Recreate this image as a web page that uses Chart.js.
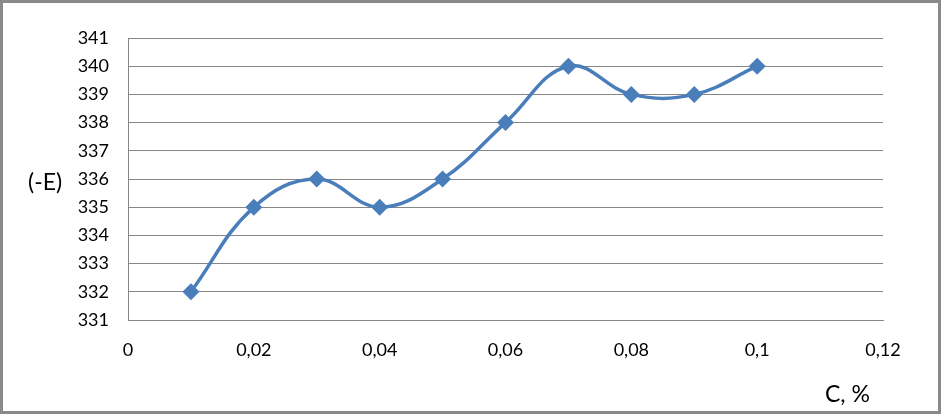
<!DOCTYPE html>
<html><head><meta charset="utf-8">
<script src="https://cdn.jsdelivr.net/npm/chart.js@4/dist/chart.umd.min.js"></script>
<style>
html,body{margin:0;padding:0;background:#fff;}
#wrap{position:relative;width:941px;height:414px;}
#frame{position:absolute;left:0;top:0;width:941px;height:414px;box-sizing:border-box;border:3px solid #8a8a8a;pointer-events:none;}
canvas{position:absolute;left:0;top:0;}
.lbl{position:absolute;font-family:Lato,"Open Sans",sans-serif;font-size:23px;color:#000;white-space:nowrap;line-height:1;}
</style></head>
<body>
<div id="wrap">
<canvas id="c" width="941" height="414"></canvas>
<div class="lbl" style="left:28px;top:170px;">(-E)</div>
<div class="lbl" style="left:825px;top:382px;">C, %</div>
<div id="frame"></div>
</div>
<script>
const concentrations = [0.01,0.02,0.03,0.04,0.05,0.06,0.07,0.08,0.09,0.1];
const potentials = [332,335,336,335,336,338,340,339,339,340];
const xTicks = [0,0.02,0.04,0.06,0.08,0.1,0.12];
const yTicks = [331,332,333,334,335,336,337,338,339,340,341];

const points = concentrations.map((x,i)=>({x:x,y:potentials[i]}));
const fmt = v => String(Math.round(v*100)/100).replace('.',',');

new Chart(document.getElementById('c'),{
  type:'scatter',
  data:{datasets:[{
    data:points,
    showLine:true,
    borderColor:'#4a7ebb',
    backgroundColor:'#4a7ebb',
    borderWidth:3.5,
    tension:0.4,
    pointStyle:'rectRot',
    pointRadius:8.5,
    pointHoverRadius:8.5,
    pointBorderWidth:0
  }]},
  options:{
    responsive:false,animation:false,
    layout:{padding:{left:0,top:38,right:58,bottom:0}},
    plugins:{legend:{display:false},tooltip:{enabled:false}},
    scales:{
      x:{type:'linear',min:0,max:0.12,
        afterBuildTicks:s=>{s.ticks=xTicks.map(v=>({value:v}));},
        afterFit:s=>{s.height=94;},
        grid:{display:false,drawTicks:false},
        border:{display:true,color:'#868686',width:1},
        ticks:{padding:19,color:'#000',font:{family:'Lato',size:18},callback:v=>fmt(v),maxRotation:0}
      },
      y:{type:'linear',min:331,max:341,
        afterBuildTicks:s=>{s.ticks=yTicks.map(v=>({value:v}));},
        afterFit:s=>{s.width=128;},
        grid:{color:'#868686',lineWidth:1,drawTicks:false},
        border:{display:true,color:'#868686',width:1},
        ticks:{padding:19,color:'#000',font:{family:'Lato',size:18},callback:v=>String(v)}
      }
    }
  }
});
</script>
</body></html>
